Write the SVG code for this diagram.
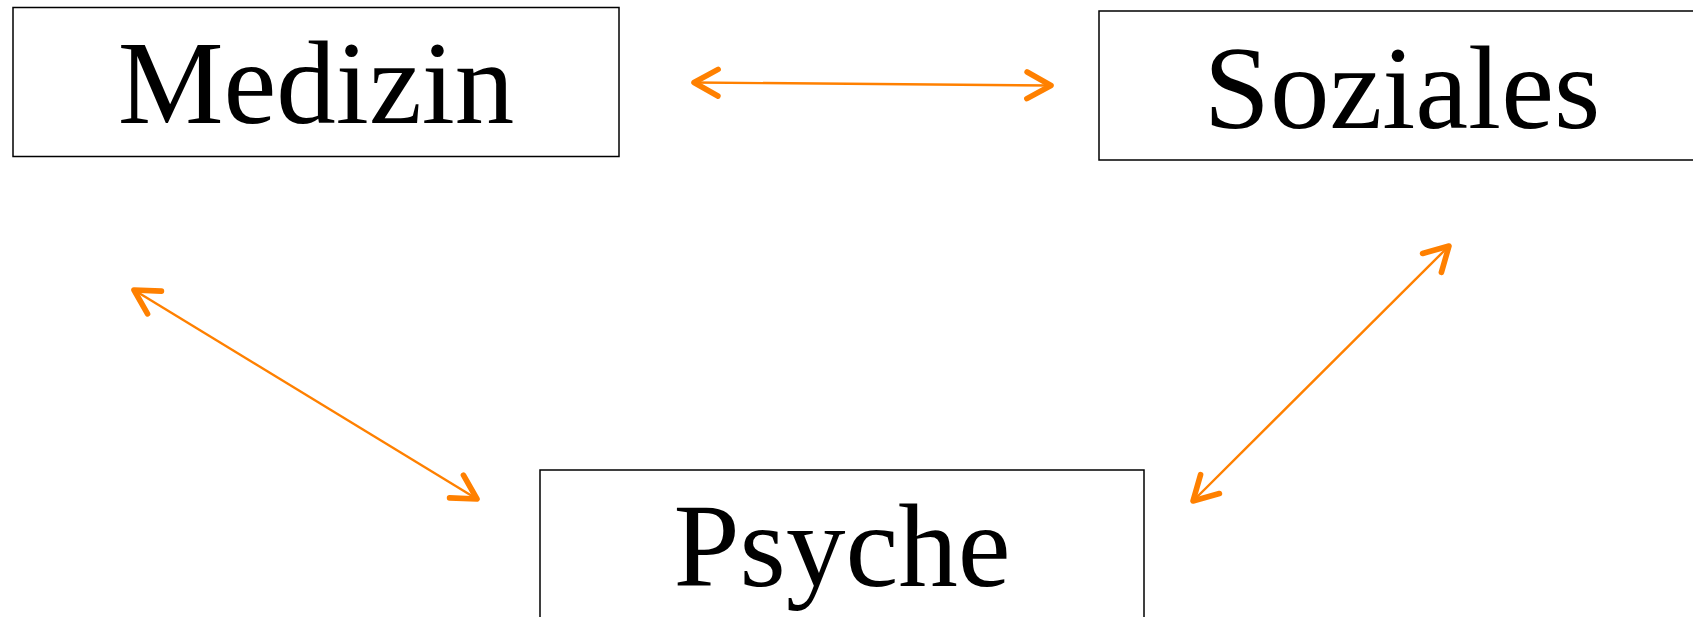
<svg xmlns="http://www.w3.org/2000/svg" width="1693" height="617" viewBox="0 0 1693 617">
<style>
.box{fill:#fff;stroke:#000;stroke-width:1.5}
.lbl{font-family:"Liberation Serif","Times New Roman",serif;font-size:119px;fill:#000;text-anchor:middle}
.conn{stroke:#ff8000;stroke-width:2.4;fill:none;marker-start:url(#ah);marker-end:url(#ah)}
</style>
<defs>
<marker id="ah" markerUnits="userSpaceOnUse" markerWidth="40" markerHeight="40" refX="0" refY="0" viewBox="-25 -15 30 30" orient="auto-start-reverse" overflow="visible">
<path d="M-18,-10 L0,0 L-18,10" fill="none" stroke="#ff8000" stroke-width="4.2" stroke-linecap="round" stroke-linejoin="round"/>
</marker>
</defs>
<rect width="1693" height="617" fill="#fff"/>
<g id="medizin">
<rect class="box" x="13" y="7.5" width="606" height="149"/>
<text class="lbl" x="316" y="123">Medizin</text>
</g>
<g id="soziales">
<rect class="box" x="1099" y="11" width="606" height="149"/>
<text class="lbl" x="1402" y="128">Soziales</text>
</g>
<g id="psyche">
<rect class="box" x="540" y="470" width="604" height="160"/>
<text class="lbl" x="842" y="586">Psyche</text>
</g>
<g id="connectors">
<line class="conn" x1="694" y1="82.5" x2="1051" y2="85.5"/>
<line class="conn" x1="134" y1="290" x2="477" y2="499"/>
<line class="conn" x1="1449" y1="246" x2="1193" y2="501"/>
</g>
</svg>
